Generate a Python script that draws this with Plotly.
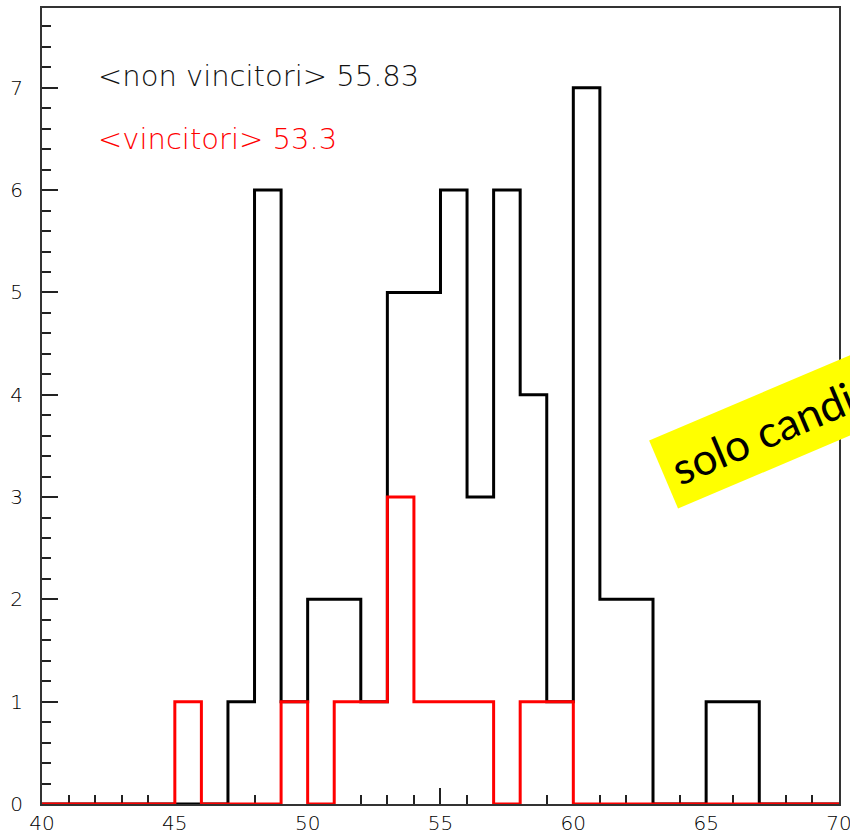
import plotly.graph_objects as go

# bin edges 40..70, width 1
bin_edges = list(range(40, 71))
# counts per bin [40-41, 41-42, ..., 69-70]
non_vincitori = [0, 0, 0, 0, 0, 0, 0, 1, 6, 1,
                 2, 2, 1, 5, 5, 6, 3, 6, 4, 1,
                 7, 2, 2, 0, 0, 1, 1, 0, 0, 0]
vincitori = [0, 0, 0, 0, 0, 1, 0, 0, 0, 1,
             0, 1, 1, 3, 1, 1, 1, 0, 1, 1,
             0, 0, 0, 0, 0, 0, 0, 0, 0, 0]
x_tickvals = [40, 45, 50, 55, 60, 65, 70]
x_ticktext = ["40", "45", "50", "55", "60", "65", "70"]
label_non = "<non vincitori> 55.83"
label_vin = "<vincitori> 53.3"
note_text = "solo candidati"


def step(counts):
    return bin_edges, counts + [counts[-1]]


fig = go.Figure()
xs, ys = step(non_vincitori)
fig.add_trace(go.Scatter(x=xs, y=ys, mode="lines", line=dict(color="#000000", width=3, shape="hv"),
                         cliponaxis=False, showlegend=False, hoverinfo="skip"))
xs, ys = step(vincitori)
fig.add_trace(go.Scatter(x=xs, y=ys, mode="lines", line=dict(color="#ff0000", width=3, shape="hv"),
                         cliponaxis=False, showlegend=False, hoverinfo="skip"))

tickfont = dict(family="DejaVu Sans", size=20, color="#000000", weight=200)

fig.update_layout(
    width=850, height=830,
    margin=dict(l=42, r=11, t=8, b=26),
    paper_bgcolor="white", plot_bgcolor="white",
    xaxis=dict(range=[40, 70.001], tickmode="array", tickvals=x_tickvals, ticktext=x_ticktext,
               ticks="inside", ticklen=16, tickwidth=2, automargin=False,
               tickcolor="#222", showgrid=False, zeroline=False, showline=True, linewidth=2,
               linecolor="#333", mirror=True, layer="below traces", tickfont=tickfont,
               ticklabelstandoff=0, ticklabeloverflow="allow",
               minor=dict(dtick=1, tick0=40, ticks="inside", ticklen=9, tickwidth=2, tickcolor="#222")),
    yaxis=dict(range=[0, 7.78], dtick=1, tick0=0, ticks="inside", ticklen=16, tickwidth=2,
               tickcolor="#222", showgrid=False, zeroline=False, showline=True, linewidth=2,
               linecolor="#333", mirror=True, layer="below traces", tickfont=tickfont,
               ticklabelstandoff=13, automargin=False, ticklabeloverflow="allow",
               minor=dict(dtick=0.2, tick0=0, ticks="inside", ticklen=9, tickwidth=2, tickcolor="#222")),
    annotations=[
        dict(x=0.068, y=0.914, xref="paper", yref="paper", text=label_non, showarrow=False,
             xanchor="left", yanchor="middle",
             font=dict(family="DejaVu Sans", size=29, color="#111111", weight=200)),
        dict(x=0.068, y=0.836, xref="paper", yref="paper", text=label_vin, showarrow=False,
             xanchor="left", yanchor="middle",
             font=dict(family="DejaVu Sans", size=29, color="#ff0000", weight=200)),
        dict(x=62.86, y=2.89, xref="x", yref="y", text=note_text, showarrow=False,
             xanchor="left", yanchor="bottom", textangle=-23, bgcolor="#ffff00",
             borderpad=11, borderwidth=0,
             font=dict(family="Lato", size=44, color="#000000")),
    ],
)

fig.write_html("out.html", config={"displayModeBar": False},
               post_script="document.body.style.margin='0';document.body.style.overflow='hidden';")
